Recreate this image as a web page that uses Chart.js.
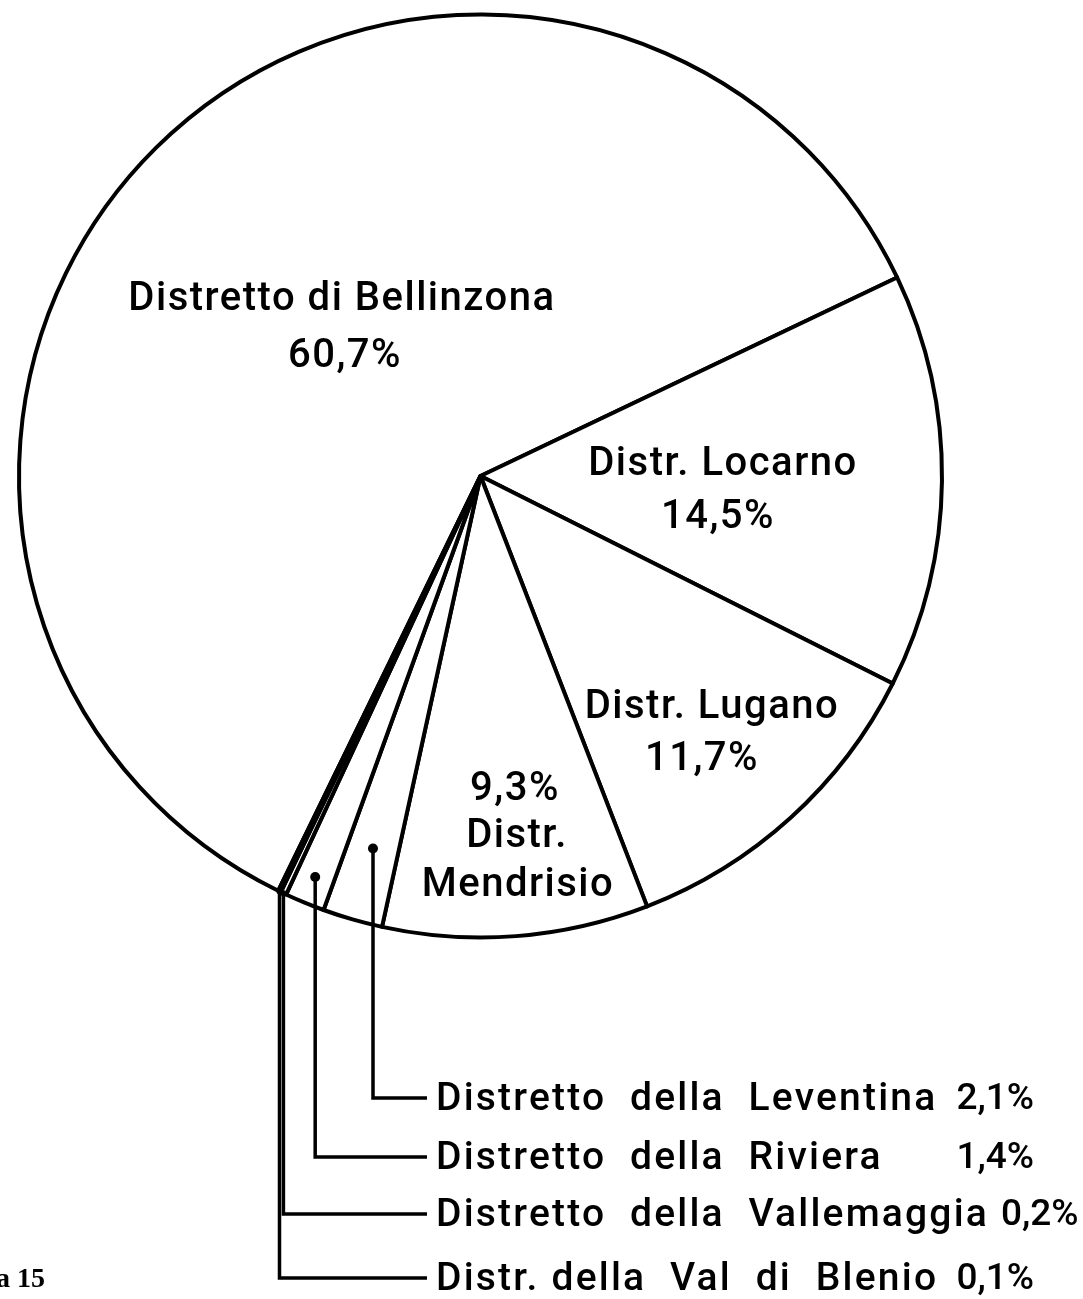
<!DOCTYPE html>
<html>
<head>
<meta charset="utf-8">
<script src="https://cdn.jsdelivr.net/npm/chart.js@4.4.1/dist/chart.umd.min.js"></script>
<style>
  html, body { margin:0; padding:0; background:#fff; }
  canvas { display:block; }
</style>
</head>
<body>
<canvas id="pie" width="1083" height="1299"></canvas>
<script>
// Ripartizione per distretto
const districts = [
  'Distretto di Bellinzona', 'Distr. Locarno', 'Distr. Lugano', 'Distr. Mendrisio',
  'Distretto della Leventina', 'Distretto della Riviera',
  'Distretto della Vallemaggia', 'Distr. della Val di Blenio'
];
const shares = [60.7, 14.5, 11.7, 9.3, 2.1, 1.4, 0.2, 0.1];
const shareText = ['60,7%', '14,5%', '11,7%', '9,3%', '2,1%', '1,4%', '0,2%', '0,1%'];

// labels written inside the big slices: lines of text per slice
const insideLines = [
  ['Distretto di Bellinzona', '60,7%'],
  ['Distr. Locarno', '14,5%'],
  ['Distr. Lugano', '11,7%'],
  ['9,3%', 'Distr.', 'Mendrisio']
];
// the small slices get a leader line and a row at the bottom
const outsideNames = [
  'Distretto  della  Leventina', 'Distretto  della  Riviera',
  'Distretto  della  Vallemaggia', 'Distr. della  Val  di  Blenio'
];

// layout: text centres in canvas px
const insidePos = [
  [[342, 300], [345, 357]],
  [[723, 465], [718, 518]],
  [[712, 708], [702, 760]],
  [[515, 790], [517, 837], [518, 886]]
];
const leaderDepth = [0.84, 0.94, 1.0, 1.0];
const rowY = [1098, 1157, 1214, 1278];
const rowLineEnd = 427, rowTextX = 436, pctRight = 1034;

const FONT = 'Roboto, "DejaVu Sans", sans-serif';

const labelPlugin = {
  id: 'labels',
  afterDatasetsDraw(chart){
    const ctx = chart.ctx;
    const meta = chart.getDatasetMeta(0);
    const a0 = meta.data[0];
    const cx = a0.x, cy = a0.y, R = a0.outerRadius;
    ctx.save();
    ctx.fillStyle = '#000';
    ctx.strokeStyle = '#000';
    ctx.textBaseline = 'middle';
    ctx.textAlign = 'left';
    ctx.font = '500 40px ' + FONT;
    ctx.letterSpacing = '1.5px';
    insideLines.forEach((lines, i) => {
      lines.forEach((t, j) => {
        const p = insidePos[i][j];
        const w = ctx.measureText(t).width;
        ctx.fillText(t, p[0] - w/2, p[1]);
      });
    });

    // leaders for the small districts
    ctx.lineWidth = 3.5;
    ctx.lineCap = 'butt';
    ctx.lineJoin = 'miter';
    for(let k = 0; k < outsideNames.length; k++){
      const arc = meta.data[4 + k];
      const mid = (arc.startAngle + arc.endAngle) / 2;
      const px = cx + Math.cos(mid) * R * leaderDepth[k];
      const py = cy + Math.sin(mid) * R * leaderDepth[k];
      ctx.beginPath();
      ctx.moveTo(px, py);
      ctx.lineTo(px, rowY[k]);
      ctx.lineTo(rowLineEnd, rowY[k]);
      ctx.stroke();
      ctx.beginPath();
      ctx.arc(px, py, leaderDepth[k] < 1 ? 5 : 3, 0, Math.PI*2);
      ctx.fill();

      ctx.font = '500 39px ' + FONT;
      ctx.letterSpacing = '2.2px';
      ctx.fillText(outsideNames[k], rowTextX, rowY[k] + 2);
      const nameEnd = rowTextX + ctx.measureText(outsideNames[k]).width;
      ctx.font = '500 37px ' + FONT;
      ctx.letterSpacing = '0px';
      const pw = ctx.measureText(shareText[4 + k]).width;
      ctx.fillText(shareText[4 + k], Math.max(pctRight - pw, nameEnd + 12), rowY[k] + 2);
    }

    ctx.letterSpacing = '0px';
    ctx.textAlign = 'right';
    ctx.font = 'bold 28px "Liberation Serif", serif';
    ctx.fillText('a 15', 45, 1280);
    ctx.restore();
  }
};

new Chart(document.getElementById('pie'), {
  type: 'pie',
  data: {
    labels: districts,
    datasets: [{
      data: shares,
      backgroundColor: '#ffffff',
      borderColor: '#000000',
      borderWidth: 4,
      borderJoinStyle: 'round'
    }]
  },
  options: {
    responsive: false,
    animation: false,
    rotation: 206,
    layout: { padding: { left: 17, top: 12, right: 139, bottom: 359 } },
    plugins: { legend: { display: false }, tooltip: { enabled: false } }
  },
  plugins: [labelPlugin]
});
</script>
</body>
</html>
